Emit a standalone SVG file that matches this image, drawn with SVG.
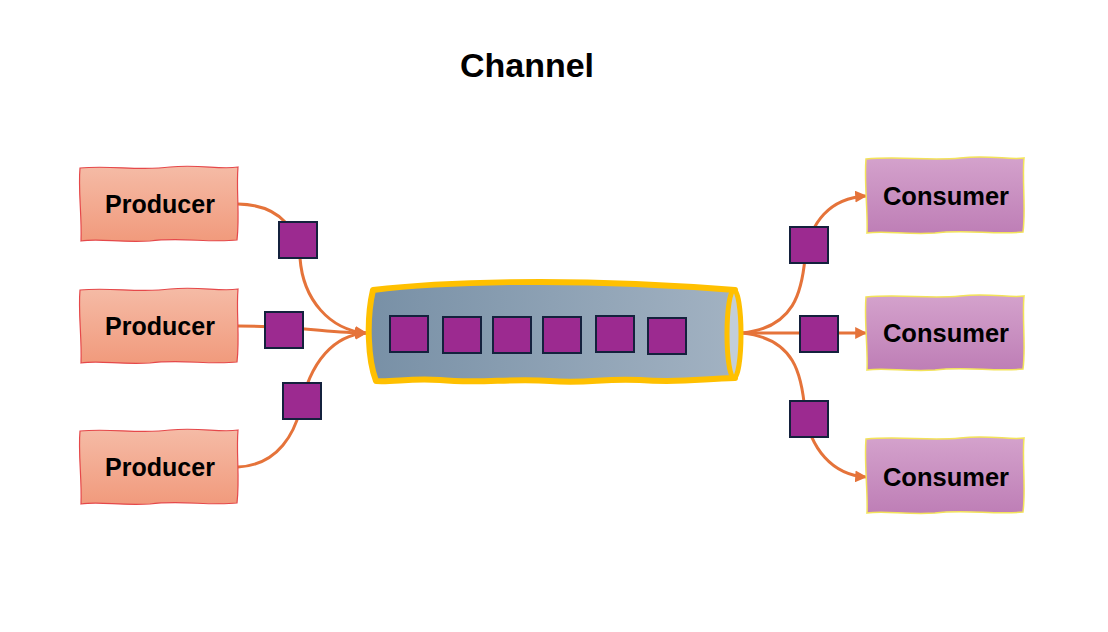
<svg xmlns="http://www.w3.org/2000/svg" width="1108" height="632" viewBox="0 0 1108 632">
<style>
.lbl{font-family:"Liberation Sans",Arial,sans-serif;font-weight:bold;font-size:25px;fill:#000;text-anchor:middle}
.lblc{font-family:"Liberation Sans",Arial,sans-serif;font-weight:bold;font-size:25.5px;fill:#000;text-anchor:middle}
.title{font-family:"Liberation Sans",Arial,sans-serif;font-weight:bold;font-size:34px;fill:#000;text-anchor:middle}
.prod{fill:url(#gProd);stroke:#E5484A;stroke-width:1.2}
.cons{fill:url(#gCons);stroke:#F3E35A;stroke-width:1.5}
.msg{fill:#9C2A90;stroke:#14213D;stroke-width:2}
.conn{fill:none;stroke:#E5733A;stroke-width:3}
</style>
<defs>
<linearGradient id="gProd" x1="0" y1="0" x2="0" y2="1"><stop offset="0" stop-color="#F5BBA6"/><stop offset="1" stop-color="#F19A7C"/></linearGradient>
<linearGradient id="gCons" x1="0" y1="0" x2="0" y2="1"><stop offset="0" stop-color="#D4A2CC"/><stop offset="1" stop-color="#BE7EB6"/></linearGradient>
<linearGradient id="gPipe" x1="0" y1="0" x2="1" y2="0"><stop offset="0" stop-color="#7890A6"/><stop offset="1" stop-color="#A2B2C2"/></linearGradient>
<marker id="arr" viewBox="0 0 10 10" refX="9" refY="5" markerWidth="4" markerHeight="4" orient="auto" markerUnits="strokeWidth"><path d="M0,0 L10,5 L0,10 z" fill="#E5733A"/></marker>
</defs>
<rect width="1108" height="632" fill="#fff"/>
<text class="title" x="527" y="77">Channel</text>

<g id="connectors">
<path class="conn" marker-end="url(#arr)" d="M238,204 C285,205 298,235 300,258 C303,300 330,330 366,333"/>
<path class="conn" marker-end="url(#arr)" d="M238,326 C300,326 330,333 366,333"/>
<path class="conn" marker-end="url(#arr)" d="M238,467 C280,465 295,430 300,410 C310,360 335,335 366,333"/>
<path class="conn" marker-end="url(#arr)" d="M742,333 C795,328 802,290 805,258 C810,222 830,198 866,196"/>
<path class="conn" marker-end="url(#arr)" d="M742,333 L866,333"/>
<path class="conn" marker-end="url(#arr)" d="M742,333 C795,338 802,375 805,412 C810,448 832,475 866,477"/>
</g>

<g id="producer1">
<path class="prod" d="M80,168 C110,165 140,171 170,167 C200,164 220,170 238,167 C236,190 240,215 237,240 C210,243 180,237 150,241 C120,243 100,238 81,241 C82,215 78,190 80,168 Z"/>
<text class="lbl" x="160" y="213">Producer</text>
</g>
<g id="producer2">
<path class="prod" d="M80,290 C110,287 140,293 170,289 C200,286 220,292 238,289 C236,312 240,337 237,362 C210,365 180,359 150,363 C120,365 100,360 81,363 C82,337 78,312 80,290 Z"/>
<text class="lbl" x="160" y="335">Producer</text>
</g>
<g id="producer3">
<path class="prod" d="M80,431 C110,428 140,434 170,430 C200,427 220,433 238,430 C236,453 240,478 237,503 C210,506 180,500 150,504 C120,506 100,501 81,504 C82,478 78,453 80,431 Z"/>
<text class="lbl" x="160" y="476">Producer</text>
</g>

<g id="consumer1">
<path class="cons" d="M866,159 C900,156 930,161 960,158 C990,155 1010,160 1024,158 C1022,180 1026,210 1023,232 C995,235 965,229 935,233 C905,235 885,230 867,233 C868,210 864,182 866,159 Z"/>
<text class="lblc" x="946" y="205">Consumer</text>
</g>
<g id="consumer2">
<path class="cons" d="M866,297 C900,294 930,299 960,296 C990,293 1010,298 1024,296 C1022,318 1026,347 1023,369 C995,372 965,366 935,370 C905,372 885,367 867,370 C868,347 864,320 866,297 Z"/>
<text class="lblc" x="946" y="342">Consumer</text>
</g>
<g id="consumer3">
<path class="cons" d="M866,439 C900,436 930,441 960,438 C990,435 1010,440 1024,438 C1022,460 1026,490 1023,512 C995,515 965,509 935,513 C905,515 885,510 867,513 C868,490 864,462 866,439 Z"/>
<text class="lblc" x="946" y="486">Consumer</text>
</g>

<g id="channel">
<path d="M373,290 C430,283 560,276 735,290 L735,378 C700,379 680,383 640,380 C600,378 590,384 550,381 C510,378 480,384 440,380 C410,378 395,382 376,381 C368,360 366,320 373,290 Z" fill="url(#gPipe)" stroke="#FFC000" stroke-width="6" stroke-linejoin="round"/>
<ellipse cx="734" cy="334" rx="7" ry="44" fill="#C2CED9" stroke="#FFC000" stroke-width="5"/>
<rect class="msg" x="390" y="316" width="38" height="36"/>
<rect class="msg" x="443" y="317" width="38" height="36"/>
<rect class="msg" x="493" y="317" width="38" height="36"/>
<rect class="msg" x="543" y="317" width="38" height="36"/>
<rect class="msg" x="596" y="316" width="38" height="36"/>
<rect class="msg" x="648" y="318" width="38" height="36"/>
</g>

<g id="messages">
<rect class="msg" x="279" y="222" width="38" height="36"/>
<rect class="msg" x="265" y="312" width="38" height="36"/>
<rect class="msg" x="283" y="383" width="38" height="36"/>
<rect class="msg" x="790" y="227" width="38" height="36"/>
<rect class="msg" x="800" y="316" width="38" height="36"/>
<rect class="msg" x="790" y="401" width="38" height="36"/>
</g>
</svg>
